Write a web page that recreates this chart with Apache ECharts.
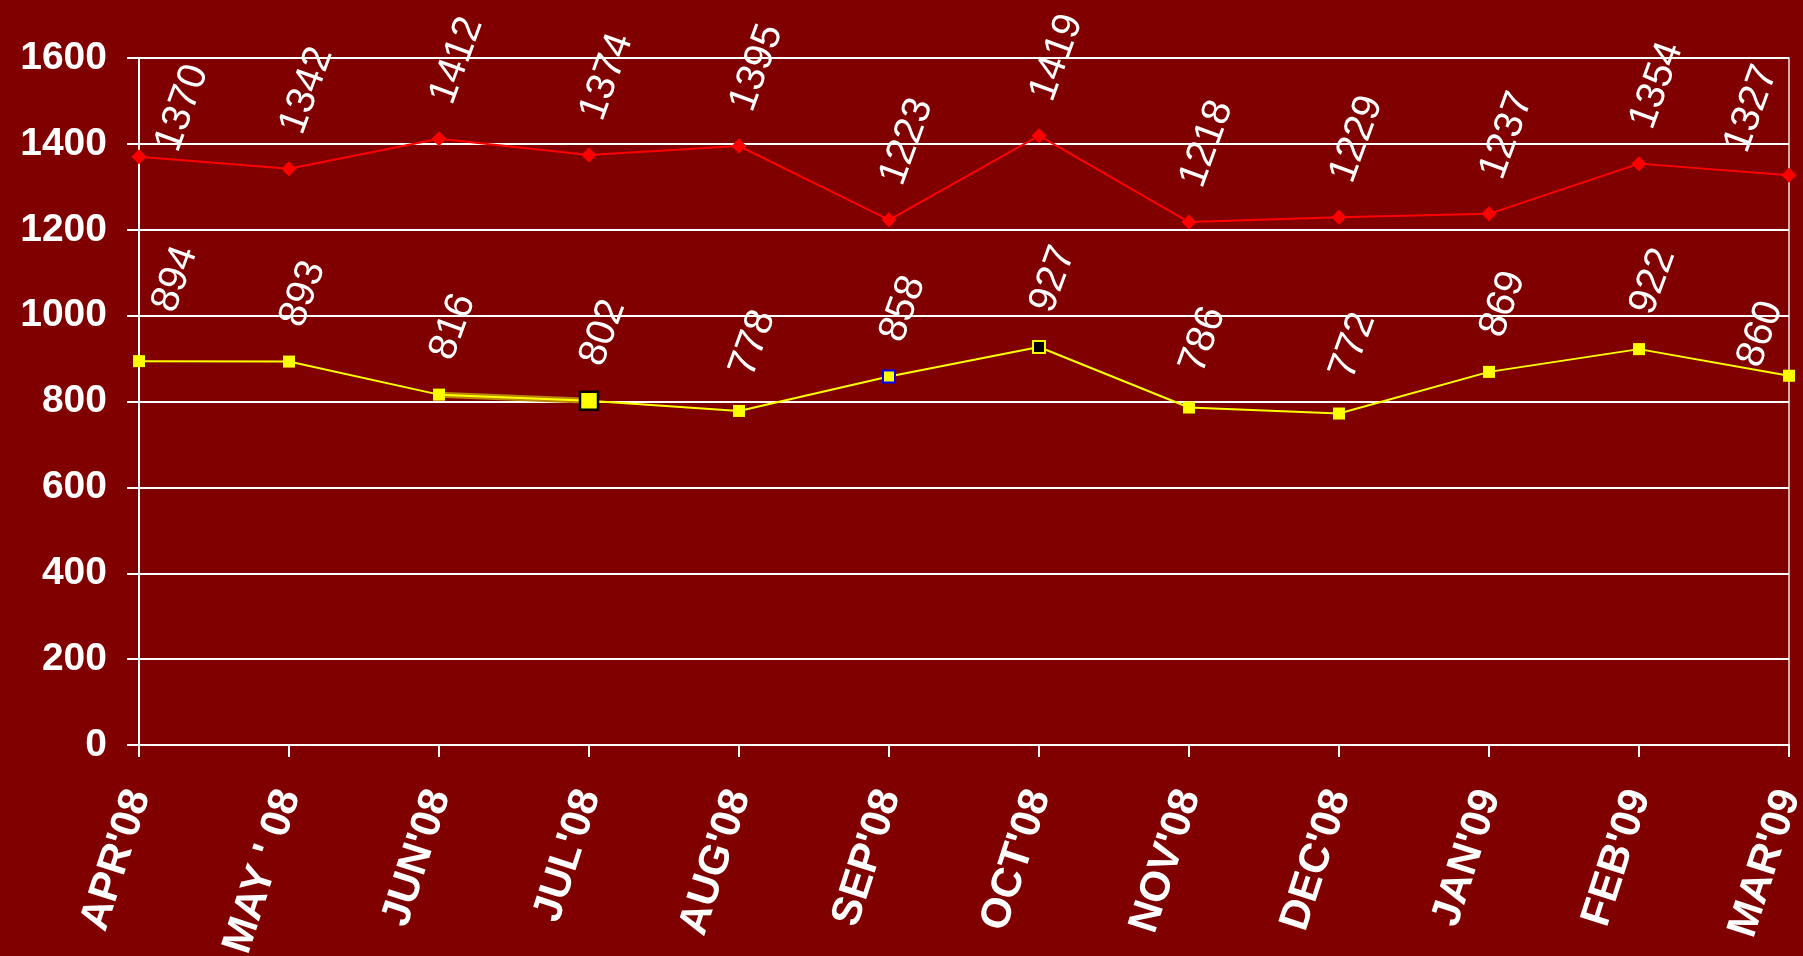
<!DOCTYPE html>
<html>
<head>
<meta charset="utf-8">
<style>
  html, body { margin: 0; padding: 0; background: #800000; }
  #chart { width: 1803px; height: 956px; }
</style>
<script src="https://cdn.jsdelivr.net/npm/echarts@6/dist/echarts.min.js"></script>
</head>
<body>
<div id="chart"></div>
<script>
const categories = ["APR'08", "MAY ' 08", "JUN'08", "JUL'08", "AUG'08", "SEP'08", "OCT'08", "NOV'08", "DEC'08", "JAN'09", "FEB'09", "MAR'09"];
const redValues = [1370, 1342, 1412, 1374, 1395, 1223, 1419, 1218, 1229, 1237, 1354, 1327];
const yellowValues = [894, 893, 816, 802, 778, 858, 927, 786, 772, 869, 922, 860];
const yTicks = [0, 200, 400, 600, 800, 1000, 1200, 1400, 1600];
const highlightSegment = [2, 3]; // JUN'08 - JUL'08 segment drawn thicker in the original

const FONT = "'Liberation Sans', Arial, sans-serif";
const chart = echarts.init(document.getElementById('chart'), null, { renderer: 'canvas' });

// label offsets are expressed in the rotated text frame (rotation 70deg)
const dataLabel = {
  show: true,
  position: 'inside',
  rotate: 70,
  align: 'left',
  verticalAlign: 'middle',
  offset: [35, -10],
  color: '#ffffff',
  fontFamily: FONT,
  fontSize: 40,
  fontWeight: 'normal'
};

// edge labels are nudged inward, as in the original
const edgeLabelOffsets = {
  red: { first: [16, 24], last: [5, -58] },
  yellow: { first: [56, 6], last: [-4, -41] }
};

function withEdgeLabels(items, offs) {
  const n = items.length;
  items[0].label = Object.assign({}, items[0].label || {}, { offset: offs.first });
  items[n - 1].label = Object.assign({}, items[n - 1].label || {}, { offset: offs.last });
  return items;
}

const yellowData = withEdgeLabels(yellowValues.map((v, i) => {
  const item = { value: v };
  if (i === 3) {
    item.symbolSize = 18;
    item.itemStyle = { color: '#ffff00', borderColor: '#000000', borderWidth: 2.5 };
  } else if (i === 5) {
    item.itemStyle = { color: '#ffff00', borderColor: '#0000ff', borderWidth: 2 };
  } else if (i === 6) {
    item.itemStyle = { color: '#000000', borderColor: '#ffff00', borderWidth: 2 };
  }
  return item;
}), edgeLabelOffsets.yellow);

const redData = withEdgeLabels(redValues.map(v => ({ value: v })), edgeLabelOffsets.red);

const segmentData = yellowValues.map((v, i) => highlightSegment.includes(i) ? v : null);

chart.setOption({
  backgroundColor: '#800000',
  animation: false,
  grid: {
    left: 139, right: 14, top: 58, bottom: 211,
    containLabel: false,
    outerBoundsMode: 'none',
    show: true, borderColor: '#e8e8e8', borderWidth: 1.5, backgroundColor: 'transparent'
  },
  xAxis: {
    type: 'category',
    data: categories,
    boundaryGap: false,
    axisLine: { show: true, lineStyle: { color: '#ffffff', width: 2 } },
    axisTick: { show: true, inside: false, length: 12, alignWithLabel: true, lineStyle: { color: '#ffffff', width: 2 } },
    axisLabel: {
      interval: 0, rotate: 72, margin: 46,
      color: '#ffffff', fontFamily: FONT, fontSize: 42, fontWeight: 'bold'
    },
    splitLine: { show: false }
  },
  yAxis: {
    type: 'value',
    min: yTicks[0],
    max: yTicks[yTicks.length - 1],
    interval: yTicks[1] - yTicks[0],
    axisLine: { show: true, lineStyle: { color: '#ffffff', width: 2 } },
    axisTick: { show: true, inside: false, length: 12, lineStyle: { color: '#ffffff', width: 2 } },
    axisLabel: {
      margin: 32, color: '#ffffff', fontFamily: FONT, fontSize: 39, fontWeight: 'bold',
      formatter: v => String(v)
    },
    splitLine: { show: true, lineStyle: { color: '#ffffff', width: 2 } }
  },
  series: [
    {
      name: 'segment',
      type: 'line',
      data: segmentData,
      symbol: 'none',
      connectNulls: false,
      lineStyle: { color: '#b8860b', width: 6 },
      z: 1,
      silent: true
    },
    {
      name: 'yellow',
      type: 'line',
      data: yellowData,
      symbol: 'rect',
      symbolSize: 12,
      itemStyle: { color: '#ffff00' },
      lineStyle: { color: '#ffff00', width: 2 },
      label: dataLabel,
      z: 3
    },
    {
      name: 'red',
      type: 'line',
      data: redData,
      symbol: 'diamond',
      symbolSize: 15,
      itemStyle: { color: '#ff0000' },
      lineStyle: { color: '#ff0000', width: 2 },
      label: dataLabel,
      z: 3
    }
  ]
});
</script>
</body>
</html>
